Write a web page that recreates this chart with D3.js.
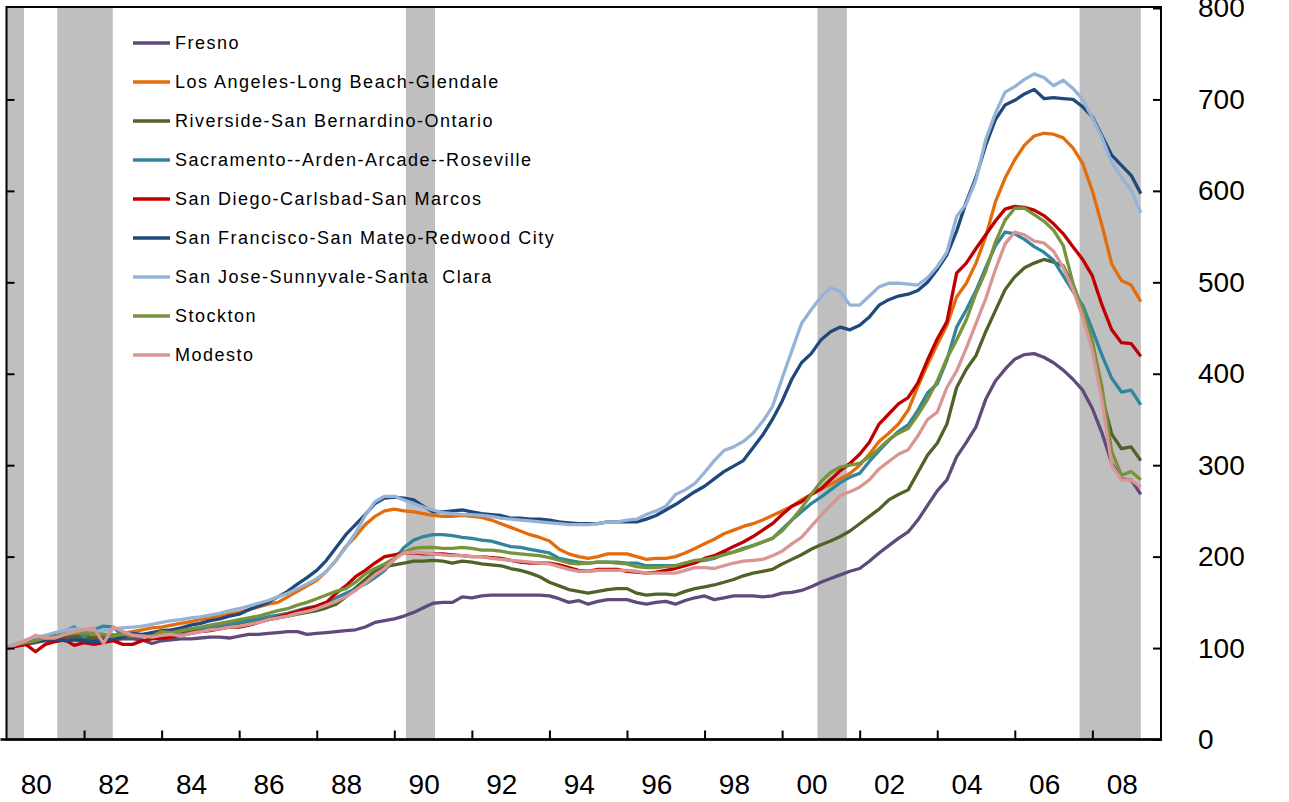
<!DOCTYPE html>
<html>
<head>
<meta charset="utf-8">
<script src="https://cdn.jsdelivr.net/npm/d3@7"></script>
<style>
body { margin: 0; background: #fff; }
svg { display: block; font-family: "Liberation Sans", Arial, sans-serif; }
</style>
</head>
<body>
<svg id="chart" width="1289" height="802"></svg>
<script>
// quarterly house price index, 1980Q1 = 100 (1980Q1 .. 2009Q2)
var startYear = 1980;
var fresno = [100,102,104,106, 108,109,110,111, 110,111,110,109, 110,110,109,105, 108,109,110,110, 111,112,112,111, 113,115,115,116, 117,118,118,115, 116,117,118,119, 120,123,128,130, 132,135,139,144, 149,150,150,156, 155,157,158,158, 158,158,158,158, 157,154,150,152, 148,151,153,153, 153,150,148,150, 151,148,152,155, 157,153,155,157, 157,157,156,157, 160,161,163,167, 172,176,180,184, 187,195,204,212, 220,227,240,256, 272,284,309,325, 342,372,392,405, 416,421,422,418, 412,404,394,382, 362,335,302,285, 284,268];
var losAngeles = [100,104,107,110, 112,114,115,116, 115,113,113,114, 116,118,120,122, 123,125,127,129, 131,133,135,137, 139,142,145,148, 150,156,162,168, 174,184,196,211, 222,235,244,250, 252,250,249,247, 245,244,244,245, 244,243,240,236, 232,228,224,221, 217,208,203,200, 198,200,203,203, 203,200,197,198, 198,200,204,209, 214,219,225,229, 233,236,240,245, 250,255,262,268, 274,279,285,291, 300,312,326,335, 345,360,386,410, 432,453,484,499, 521,550,588,614, 634,650,660,663, 662,658,647,630, 600,562,520,502, 497,479];
var riverside = [100,102,105,108, 110,112,113,114, 112,111,113,114, 113,112,114,115, 115,116,118,119, 120,121,122,124, 125,127,129,131, 133,135,137,139, 141,144,148,156, 166,175,184,189, 191,193,195,195, 196,195,193,195, 194,192,191,190, 187,185,182,178, 172,168,164,162, 160,162,164,165, 165,160,158,159, 159,158,162,165, 167,169,172,175, 179,182,184,186, 192,197,202,208, 213,217,222,228, 236,244,252,262, 268,273,292,311, 324,345,385,405, 420,446,469,492, 506,516,521,525, 522,518,495,470, 435,375,334,318, 320,305];
var sacramento = [100,104,107,110, 112,115,118,123, 112,120,124,123, 113,113,114,116, 115,117,119,121, 122,123,125,127, 128,130,132,134, 136,138,141,144, 146,150,155,160, 165,170,177,185, 197,210,218,222, 224,224,223,221, 220,218,217,214, 211,210,208,206, 204,198,196,194, 193,194,194,194, 193,193,190,190, 190,190,193,195, 196,198,203,205, 209,212,216,220, 230,240,249,258, 265,273,281,287, 291,304,316,327, 337,344,360,379, 389,415,451,470, 491,516,540,555, 553,547,539,533, 524,507,490,475, 448,420,395,380, 382,366];
var sanDiego = [100,102,104,96, 104,107,109,103, 106,104,106,108, 104,104,108,110, 111,112,114,116, 118,119,121,123, 123,125,128,131, 134,137,140,143, 146,150,160,168, 178,185,193,200, 202,204,204,203, 203,203,202,201, 200,200,199,198, 196,194,193,193, 193,191,188,185, 184,186,186,186, 184,183,182,183, 185,187,190,193, 198,201,206,211, 216,222,229,236, 246,255,260,268, 274,284,294,302, 312,325,345,356, 367,374,390,415, 438,457,510,521, 537,552,567,580, 583,582,579,573, 564,553,539,525, 507,475,448,434, 433,419];
var sanFrancisco = [100,104,107,108, 109,110,108,109, 108,107,108,110, 112,116,115,117, 119,120,122,125, 127,130,132,135, 137,142,146,150, 156,162,170,177, 185,196,210,224, 235,246,258,264, 265,264,262,255, 249,249,250,251, 249,247,246,245, 242,242,241,241, 240,238,237,236, 236,236,238,238, 238,238,241,245, 251,257,264,271, 277,285,293,299, 305,319,333,350, 370,394,412,422, 437,446,451,448, 453,462,475,481, 485,487,491,500, 514,530,556,588, 615,650,678,694, 699,706,711,701, 702,701,700,692, 681,660,639,628, 617,597];
var sanJose = [100,105,109,112, 114,117,119,121, 120,118,119,121, 122,123,124,126, 128,130,131,133, 134,136,138,141, 143,146,149,152, 156,160,165,170, 176,184,196,210, 226,245,260,266, 266,262,258,254, 251,248,247,246, 246,245,244,242, 241,240,239,238, 237,236,235,235, 235,236,238,238, 240,241,246,250, 255,268,273,280, 292,305,316,320, 326,335,348,364, 395,425,455,470, 484,494,490,475, 475,485,495,499, 499,498,497,505, 517,533,572,586, 612,656,685,708, 714,722,728,724, 715,721,712,700, 680,658,631,615, 601,576];
var stockton = [100,104,106,108, 111,113,115,116, 117,116,115,113, 115,114,113,113, 118,117,119,121, 123,125,127,129, 131,133,135,138, 141,143,147,150, 154,158,162,165, 172,181,187,192, 198,205,209,210, 210,209,209,210, 209,207,207,206, 204,203,202,201, 199,196,193,192, 193,194,194,193, 192,189,188,188, 189,190,193,196, 197,199,202,205, 208,212,216,220, 228,240,253,268, 282,292,298,300, 302,309,318,328, 335,340,355,372, 392,417,437,459, 488,512,544,568, 581,581,574,567, 557,540,499,470, 435,385,315,289, 293,284];
var modesto = [100,104,108,114, 111,111,115,118, 120,122,105,123, 118,114,113,112, 114,115,113,116, 118,120,121,123, 124,126,128,131, 133,135,138,140, 143,147,151,156, 163,171,180,187, 197,204,205,204, 203,202,201,201, 200,200,198,197, 196,195,194,193, 192,189,186,184, 184,185,185,185, 185,184,182,182, 182,182,185,188, 188,187,190,193, 195,196,197,201, 206,214,221,233, 245,256,267,271, 276,284,296,304, 312,317,332,350, 358,385,403,428, 455,482,514,542, 555,552,545,543, 534,516,492,462, 425,370,300,284, 284,276];

var seriesNames = ['Fresno', 'Los Angeles-Long Beach-Glendale', 'Riverside-San Bernardino-Ontario',
    'Sacramento--Arden-Arcade--Roseville', 'San Diego-Carlsbad-San Marcos',
    'San Francisco-San Mateo-Redwood City', 'San Jose-Sunnyvale-Santa  Clara', 'Stockton', 'Modesto'];
var seriesValues = [fresno, losAngeles, riverside, sacramento, sanDiego, sanFrancisco, sanJose, stockton, modesto];
var seriesColors = ['#604A7B', '#E46C0A', '#4F6228', '#31859C', '#C00000', '#1F497D', '#95B3D7', '#77933C', '#D99694'];

// recessions, decimal years
var recessions = [[1980.0, 1980.45], [1981.31, 1982.74], [1990.3, 1991.05], [2000.91, 2001.67], [2007.67, 2009.25]];
var yTicks = [0, 100, 200, 300, 400, 500, 600, 700, 800];
var xTickYears = [1982, 1984, 1986, 1988, 1990, 1992, 1994, 1996, 1998, 2000, 2002, 2004, 2006, 2008];
var xLabelYears = [1980, 1982, 1984, 1986, 1988, 1990, 1992, 1994, 1996, 1998, 2000, 2002, 2004, 2006, 2008];

var svg = d3.select('#chart');
var plotLeft = 6.5, plotRight = 1161, plotTop = 8, plotBottom = 739.5;

var x = d3.scaleLinear().domain([1980, 2009.77]).range([plotLeft, plotRight]);
var y = d3.scaleLinear().domain([0, 800]).range([plotBottom, plotTop]);

// recession shading
svg.append('g').selectAll('rect').data(recessions).join('rect')
    .attr('x', d => x(d[0]))
    .attr('width', d => x(d[1]) - x(d[0]))
    .attr('y', plotTop)
    .attr('height', plotBottom - plotTop)
    .attr('fill', '#BFBFBF');

// lines
var line = d3.line()
    .x((d, i) => x(startYear + i / 4))
    .y(d => y(d));
var lines = svg.append('g').attr('fill', 'none').attr('stroke-width', 3.3).attr('stroke-linejoin', 'round');
seriesValues.forEach((vals, i) => {
    lines.append('path').attr('d', line(vals)).attr('stroke', seriesColors[i]);
});

// frame + axes
svg.append('rect').attr('x', plotLeft).attr('y', plotTop - 1)
    .attr('width', plotRight - plotLeft).attr('height', plotBottom - plotTop + 1)
    .attr('fill', 'none').attr('stroke', '#000').attr('stroke-width', 2);

var yRight = d3.axisRight(y).tickValues(yTicks).tickSize(-8).tickPadding(37).tickFormat(d3.format('d'));
var gR = svg.append('g').attr('transform', 'translate(' + plotRight + ',0)').call(yRight);
gR.select('.domain').remove();
gR.selectAll('.tick line').attr('stroke-width', 2);
gR.selectAll('text').attr('font-size', 28).attr('fill', '#000')
    .attr('font-family', '"Liberation Sans", Arial, sans-serif');

var yLeft = d3.axisLeft(y).tickValues(yTicks.slice(1, -1)).tickSize(-8).tickFormat('');
var gL = svg.append('g').attr('transform', 'translate(' + plotLeft + ',0)').call(yLeft);
gL.select('.domain').remove();
gL.selectAll('.tick line').attr('stroke-width', 2);

var xAxis = d3.axisBottom(x).tickValues(xTickYears).tickSize(-9).tickFormat('');
var gX = svg.append('g').attr('transform', 'translate(0,' + plotBottom + ')').call(xAxis);
gX.select('.domain').remove();
gX.selectAll('.tick line').attr('stroke-width', 2);
svg.append('line').attr('x1', plotLeft - 6).attr('x2', plotRight + 1)
    .attr('y1', plotBottom).attr('y2', plotBottom)
    .attr('stroke', '#000').attr('stroke-width', 2.5);

svg.append('g').selectAll('text').data(xLabelYears).join('text')
    .attr('x', d => x(d + 0.77))
    .attr('y', 794)
    .attr('text-anchor', 'middle')
    .attr('font-size', 28)
    .text(d => String(d).slice(2));

// legend
var legend = svg.append('g');
seriesNames.forEach((name, i) => {
    var ly = 43 + i * 39;
    legend.append('line').attr('x1', 133).attr('x2', 170).attr('y1', ly).attr('y2', ly)
        .attr('stroke', seriesColors[i]).attr('stroke-width', 3.3);
    legend.append('text').attr('x', 175).attr('y', ly + 6)
        .attr('font-size', 18).attr('letter-spacing', 1.5)
        .style('white-space', 'pre')
        .text(name);
});
</script>
</body>
</html>
